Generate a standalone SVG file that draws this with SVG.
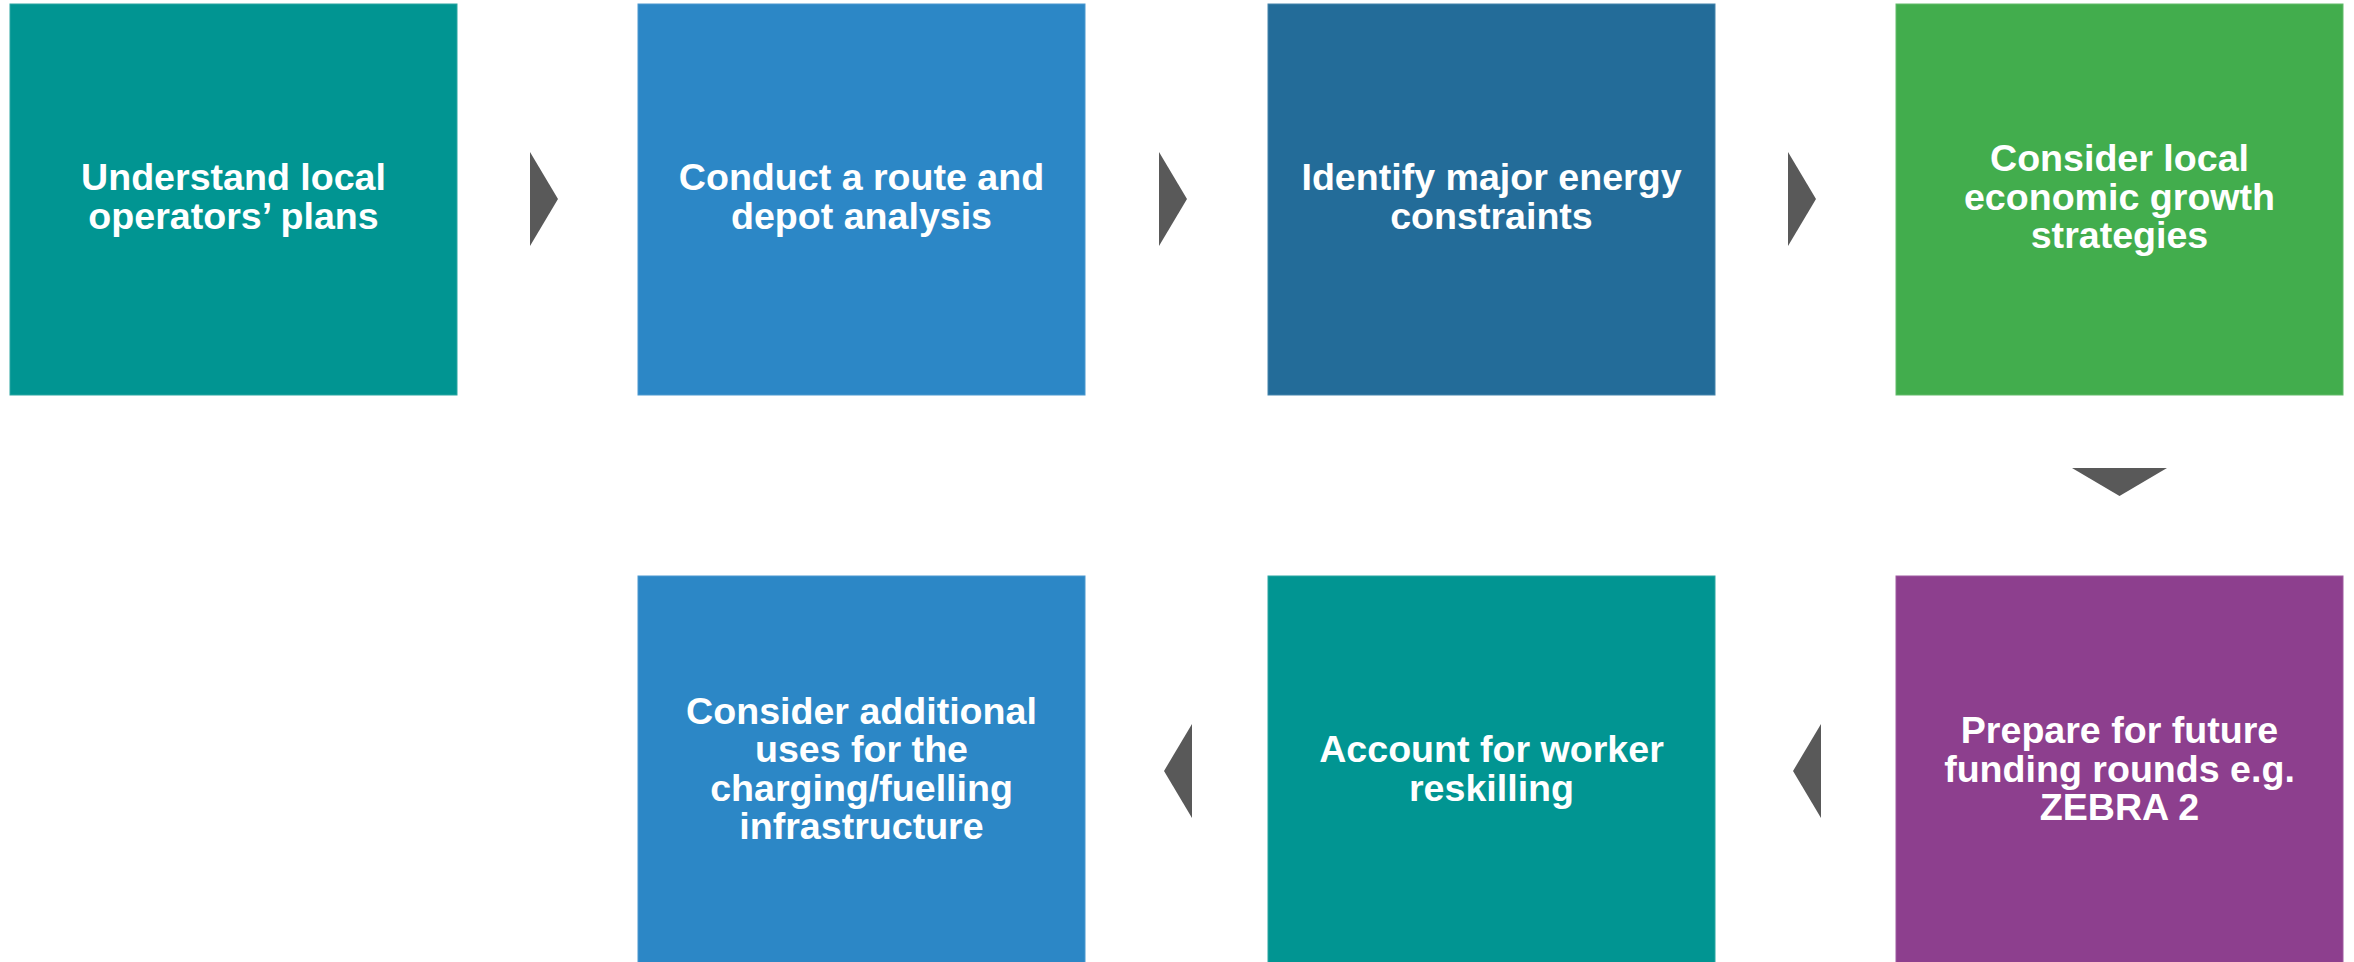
<svg xmlns="http://www.w3.org/2000/svg" width="2354" height="962" viewBox="0 0 2354 962">
  <style>
    .box { stroke-width: 1; }
    .label { font-family: "Liberation Sans", Arial, sans-serif; font-weight: bold; font-size: 37.6px; fill: #ffffff; text-anchor: middle; }
    .arrow { fill: #595959; }
    .teal { fill: #019592; stroke: #2aa6a2; }
    .blue { fill: #2c87c6; stroke: #4a98cf; }
    .navy { fill: #236c99; stroke: #4584ab; }
    .green { fill: #42ad4d; stroke: #62bb6b; }
    .purple { fill: #8d3f8e; stroke: #9e5a9f; }
  </style>
  <rect width="2354" height="962" fill="#ffffff"/>

  <!-- top row -->
  <g id="step-operators">
    <rect class="box teal" x="10" y="4" width="447" height="391"/>
    <text class="label"><tspan x="233.5" y="190.4">Understand local</tspan><tspan x="233.5" y="228.7">operators’ plans</tspan></text>
  </g>
  <g id="step-route">
    <rect class="box blue" x="638" y="4" width="447" height="391"/>
    <text class="label"><tspan x="861.5" y="190.4">Conduct a route and</tspan><tspan x="861.5" y="228.7">depot analysis</tspan></text>
  </g>
  <g id="step-energy">
    <rect class="box navy" x="1268" y="4" width="447" height="391"/>
    <text class="label"><tspan x="1491.5" y="190.4">Identify major energy</tspan><tspan x="1491.5" y="228.7">constraints</tspan></text>
  </g>
  <g id="step-growth">
    <rect class="box green" x="1896" y="4" width="447" height="391"/>
    <text class="label"><tspan x="2119.5" y="171.2">Consider local</tspan><tspan x="2119.5" y="209.5">economic growth</tspan><tspan x="2119.5" y="247.8">strategies</tspan></text>
  </g>

  <!-- bottom row -->
  <g id="step-funding">
    <rect class="box purple" x="1896" y="576" width="447" height="391"/>
    <text class="label"><tspan x="2119.5" y="743.2">Prepare for future</tspan><tspan x="2119.5" y="781.5">funding rounds e.g.</tspan><tspan x="2119.5" y="819.8">ZEBRA 2</tspan></text>
  </g>
  <g id="step-reskilling">
    <rect class="box teal" x="1268" y="576" width="447" height="391"/>
    <text class="label"><tspan x="1491.5" y="762.4">Account for worker</tspan><tspan x="1491.5" y="800.7">reskilling</tspan></text>
  </g>
  <g id="step-uses">
    <rect class="box blue" x="638" y="576" width="447" height="391"/>
    <text class="label"><tspan x="861.5" y="724">Consider additional</tspan><tspan x="861.5" y="762.3">uses for the</tspan><tspan x="861.5" y="800.6">charging/fuelling</tspan><tspan x="861.5" y="838.9">infrastructure</tspan></text>
  </g>

  <!-- connectors -->
  <g id="connectors">
    <polygon class="arrow" points="530,152 558,199 530,246"/>
    <polygon class="arrow" points="1159,152 1187,199 1159,246"/>
    <polygon class="arrow" points="1788,152 1816,199 1788,246"/>
    <polygon class="arrow" points="2072,468 2167,468 2119.5,496"/>
    <polygon class="arrow" points="1821,724 1793,771 1821,818"/>
    <polygon class="arrow" points="1192,724 1164,771 1192,818"/>
  </g>
</svg>
